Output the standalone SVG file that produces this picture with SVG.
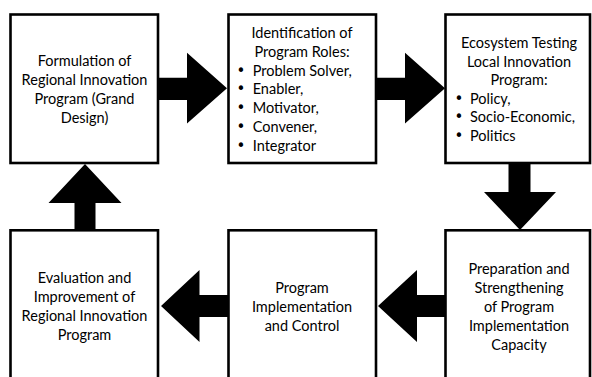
<svg xmlns="http://www.w3.org/2000/svg" width="592" height="377" viewBox="0 0 592 377">
<style>
.box{fill:#fff;stroke:#000;stroke-width:2.6}
.arr{fill:#000;stroke:none}
text{font-family:Lato,"Open Sans","Liberation Sans",sans-serif;font-size:14.5px;fill:#000}
.c{text-anchor:middle}
.b{font-size:15px;font-family:"DejaVu Sans",sans-serif}
</style>
<rect width="592" height="377" fill="#fff"/>
<g id="connectors">
<polygon class="arr" points="158,77.7 187,77.7 187,52.7 227,88.3 187,123.5 187,100 158,100"/>
<polygon class="arr" points="376,77.7 405,77.7 405,52.7 445,88.3 405,123.5 405,100 376,100"/>
<polygon class="arr" points="508.5,163 530.5,163 530.5,192 556,192 520,230 484,192 508.5,192"/>
<polygon class="arr" points="445.5,295 417,295 417,270 378,306 417,342 417,317 445.5,317"/>
<polygon class="arr" points="228.5,295 199.5,295 199.5,270 161,306 199.5,342 199.5,317 228.5,317"/>
<polygon class="arr" points="74.5,230 74.5,203 48.5,203 85,164 121.5,203 95.5,203 95.5,230"/>
</g>
<g id="node1">
<rect class="box" x="10.5" y="14.5" width="147.5" height="148.5"/>
<text class="c" x="84.5" y="66">Formulation of</text>
<text class="c" x="84.5" y="85">Regional Innovation</text>
<text class="c" x="84.5" y="104">Program (Grand</text>
<text class="c" x="84.5" y="123">Design)</text>
</g>
<g id="node2">
<rect class="box" x="228.5" y="14.5" width="147.5" height="148.5"/>
<text class="c" x="302" y="38">Identification of</text>
<text class="c" x="302" y="56.8">Program Roles:</text>
<text y="75.6"><tspan class="b" x="236.5">•</tspan><tspan x="252.7">Problem Solver,</tspan></text>
<text y="94.4"><tspan class="b" x="236.5">•</tspan><tspan x="252.7">Enabler,</tspan></text>
<text y="113.2"><tspan class="b" x="236.5">•</tspan><tspan x="252.7">Motivator,</tspan></text>
<text y="132"><tspan class="b" x="236.5">•</tspan><tspan x="252.7">Convener,</tspan></text>
<text y="150.8"><tspan class="b" x="236.5">•</tspan><tspan x="252.7">Integrator</tspan></text>
</g>
<g id="node3">
<rect class="box" x="445.5" y="14.5" width="144.5" height="148.5"/>
<text class="c" x="519" y="48">Ecosystem Testing</text>
<text class="c" x="519" y="66.6">Local Innovation</text>
<text class="c" x="519" y="85.2">Program:</text>
<text y="103.8"><tspan class="b" x="454.5">•</tspan><tspan x="470">Policy,</tspan></text>
<text y="122.4"><tspan class="b" x="454.5">•</tspan><tspan x="470">Socio-Economic,</tspan></text>
<text y="141"><tspan class="b" x="454.5">•</tspan><tspan x="470">Politics</tspan></text>
</g>
<g id="node4">
<rect class="box" x="10.5" y="230.3" width="147.5" height="160"/>
<text class="c" x="84.5" y="283">Evaluation and</text>
<text class="c" x="84.5" y="302">Improvement of</text>
<text class="c" x="84.5" y="321">Regional Innovation</text>
<text class="c" x="84.5" y="340">Program</text>
</g>
<g id="node5">
<rect class="box" x="228.5" y="230.3" width="147.5" height="160"/>
<text class="c" x="302" y="292.5">Program</text>
<text class="c" x="302" y="312">Implementation</text>
<text class="c" x="302" y="331">and Control</text>
</g>
<g id="node6">
<rect class="box" x="445.5" y="230.3" width="144.5" height="160"/>
<text class="c" x="519" y="274">Preparation and</text>
<text class="c" x="519" y="293">Strengthening</text>
<text class="c" x="519" y="311.5">of Program</text>
<text class="c" x="519" y="330.5">Implementation</text>
<text class="c" x="519" y="349.5">Capacity</text>
</g>
</svg>
